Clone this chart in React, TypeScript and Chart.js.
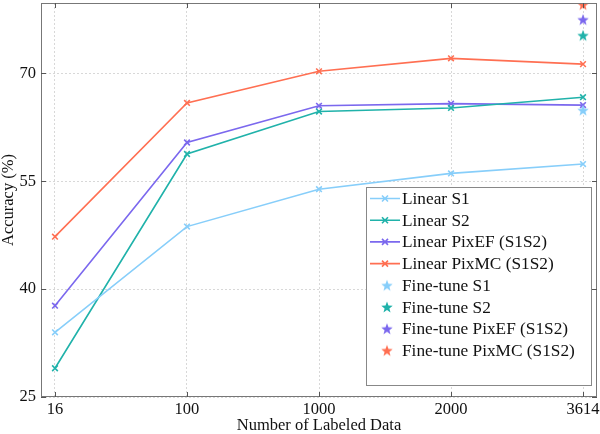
import React, { useEffect, useRef } from "react";
import { Chart, registerables } from "chart.js";
Chart.register(...registerables);

const categories = ["16", "100", "1000", "2000", "3614"];
const linearS1 = [34.0, 48.7, 53.9, 56.1, 57.4];
const linearS2 = [29.0, 58.8, 64.7, 65.2, 66.7];
const linearPixEF = [37.7, 60.4, 65.5, 65.8, 65.6];
const linearPixMC = [47.3, 65.9, 70.3, 72.1, 71.3];
const fineTuneS1 = [64.9];
const fineTuneS2 = [75.3];
const fineTunePixEF = [77.5];
const fineTunePixMC = [79.6];
const yTicks = [25, 40, 55, 70];

const C_S1 = "#87CEFA";
const C_S2 = "#20B2AA";
const C_EF = "#7B68EE";
const C_MC = "#FF6F52";

const FONT = "'Liberation Serif', 'Times New Roman', serif";

function makeStar(color: string): HTMLCanvasElement {
  const s = 14;
  const c = document.createElement("canvas");
  c.width = s;
  c.height = s;
  const ctx = c.getContext("2d")!;
  const R = 6;
  const r = R * 0.42;
  ctx.beginPath();
  for (let i = 0; i < 10; i++) {
    const rad = i % 2 === 0 ? R : r;
    const a = -Math.PI / 2 + (i * Math.PI) / 5;
    const x = s / 2 + rad * Math.cos(a);
    const y = s / 2 + 0.6 + rad * Math.sin(a);
    if (i === 0) ctx.moveTo(x, y);
    else ctx.lineTo(x, y);
  }
  ctx.closePath();
  ctx.fillStyle = color;
  ctx.fill();
  return c;
}

export default function App() {
  const ref = useRef<HTMLCanvasElement>(null);
  useEffect(() => {
    document.body.style.margin = "0";
    const canvas = ref.current!;
    const stars = {
      s1: makeStar(C_S1),
      s2: makeStar(C_S2),
      ef: makeStar(C_EF),
      mc: makeStar(C_MC),
    };
    const lineDs = (label: string, data: number[], color: string) => ({
      label,
      data: data.map((v, i) => ({ x: i, y: v })),
      borderColor: color,
      backgroundColor: color,
      borderWidth: 1.6,
      pointStyle: "crossRot" as const,
      pointRadius: 4,
      pointBorderWidth: 1.6,
      showLine: true,
      order: 1,
    });
    const starDs = (label: string, data: number[], img: HTMLCanvasElement) => ({
      label,
      data: data.map((v) => ({ x: categories.length - 1, y: v })),
      pointStyle: img,
      pointRadius: 6,
      showLine: false,
      order: 0,
    });
    const legendItems = [
      { label: "Linear S1", color: C_S1, star: null as HTMLCanvasElement | null },
      { label: "Linear S2", color: C_S2, star: null },
      { label: "Linear PixEF (S1S2)", color: C_EF, star: null },
      { label: "Linear PixMC (S1S2)", color: C_MC, star: null },
      { label: "Fine-tune S1", color: C_S1, star: stars.s1 },
      { label: "Fine-tune S2", color: C_S2, star: stars.s2 },
      { label: "Fine-tune PixEF (S1S2)", color: C_EF, star: stars.ef },
      { label: "Fine-tune PixMC (S1S2)", color: C_MC, star: stars.mc },
    ];

    const framePlugin = {
      id: "frame",
      afterDatasetsDraw(chart: any) {
        const { ctx, chartArea: a, scales } = chart;
        ctx.save();
        ctx.strokeStyle = "#777";
        ctx.lineWidth = 1;
        ctx.setLineDash([]);
        ctx.strokeRect(a.left + 0.5, a.top + 0.5, a.right - a.left - 1, a.bottom - a.top - 1);
        const tl = 5;
        ctx.strokeStyle = "#555";
        ctx.beginPath();
        scales.x.ticks.forEach((t: any) => {
          const x = Math.round(scales.x.getPixelForValue(t.value)) + 0.5;
          ctx.moveTo(x, a.bottom);
          ctx.lineTo(x, a.bottom - tl);
          ctx.moveTo(x, a.top);
          ctx.lineTo(x, a.top + tl);
        });
        scales.y.ticks.forEach((t: any) => {
          const y = Math.round(scales.y.getPixelForValue(t.value)) + 0.5;
          ctx.moveTo(a.left, y);
          ctx.lineTo(a.left + tl, y);
          ctx.moveTo(a.right, y);
          ctx.lineTo(a.right - tl, y);
        });
        ctx.stroke();
        ctx.restore();
      },
      afterDraw(chart: any) {
        const { ctx } = chart;
        const bx = 366, by = 187, bw = 225, bh = 198;
        ctx.save();
        ctx.fillStyle = "#fff";
        ctx.fillRect(bx, by, bw, bh);
        ctx.strokeStyle = "#888";
        ctx.lineWidth = 1;
        ctx.strokeRect(bx + 0.5, by + 0.5, bw, bh);
        ctx.font = `17.3px ${FONT}`;
        ctx.textBaseline = "middle";
        ctx.textAlign = "left";
        legendItems.forEach((it, i) => {
          const cy = by + 11.5 + i * 21.7;
          if (it.star) {
            ctx.drawImage(it.star, 387 - 7, cy - 7);
          } else {
            ctx.strokeStyle = it.color;
            ctx.lineWidth = 1.6;
            ctx.beginPath();
            ctx.moveTo(370, cy);
            ctx.lineTo(400, cy);
            const m = 3;
            ctx.moveTo(385 - m, cy - m);
            ctx.lineTo(385 + m, cy + m);
            ctx.moveTo(385 - m, cy + m);
            ctx.lineTo(385 + m, cy - m);
            ctx.stroke();
          }
          ctx.fillStyle = "#111";
          ctx.fillText(it.label, 402, cy + 1);
        });
        ctx.restore();
      },
    };

    const chart = new Chart(canvas, {
      type: "scatter",
      data: {
        datasets: [
          lineDs("Linear S1", linearS1, C_S1),
          lineDs("Linear S2", linearS2, C_S2),
          lineDs("Linear PixEF (S1S2)", linearPixEF, C_EF),
          lineDs("Linear PixMC (S1S2)", linearPixMC, C_MC),
          starDs("Fine-tune S1", fineTuneS1, stars.s1),
          starDs("Fine-tune S2", fineTuneS2, stars.s2),
          starDs("Fine-tune PixEF (S1S2)", fineTunePixEF, stars.ef),
          starDs("Fine-tune PixMC (S1S2)", fineTunePixMC, stars.mc),
        ] as any,
      },
      options: {
        responsive: false,
        animation: false,
        layout: { autoPadding: false, padding: { top: 3, right: 3, left: 0, bottom: 0 } },
        plugins: { legend: { display: false }, tooltip: { enabled: false } },
        scales: {
          x: {
            type: "linear",
            min: -0.106,
            max: categories.length - 1 + 0.106,
            afterBuildTicks: (s: any) => {
              s.ticks = categories.map((_, i) => ({ value: i }));
            },
            afterFit: (s: any) => {
              s.height = 37;
              s.paddingLeft = 0;
              s.paddingRight = 0;
            },
            ticks: {
              padding: 3,
              color: "#111",
              font: { family: FONT, size: 16.5 },
              callback: (v: any) => categories[v as number] ?? "",
              maxRotation: 0,
              autoSkip: false,
            },
            grid: { color: "#d8d8d8", drawTicks: false },
            border: { display: false, dash: [2, 2] },
            title: {
              display: true,
              text: "Number of Labeled Data",
              color: "#111",
              font: { family: FONT, size: 16.5, lineHeight: 1 },
              padding: { top: 0, bottom: 0 },
            },
          },
          y: {
            type: "linear",
            min: 25,
            max: 79.8,
            afterBuildTicks: (s: any) => {
              s.ticks = yTicks.map((v) => ({ value: v }));
            },
            afterFit: (s: any) => {
              s.width = 41;
              s.paddingTop = 0;
              s.paddingBottom = 0;
            },
            ticks: {
              padding: 5,
              color: "#111",
              font: { family: FONT, size: 16.5 },
            },
            grid: { color: "#d8d8d8", drawTicks: false },
            border: { display: false, dash: [2, 2] },
            title: {
              display: true,
              text: "Accuracy (%)",
              color: "#111",
              font: { family: FONT, size: 16.5, lineHeight: 1 },
              padding: { top: 0, bottom: 0 },
            },
          },
        },
      },
      plugins: [framePlugin],
    } as any);
    return () => chart.destroy();
  }, []);
  return (
    <canvas
      ref={ref}
      width={600}
      height={434}
      style={{ display: "block", position: "absolute", left: 0, top: 0, width: 600, height: 434 }}
    />
  );
}
